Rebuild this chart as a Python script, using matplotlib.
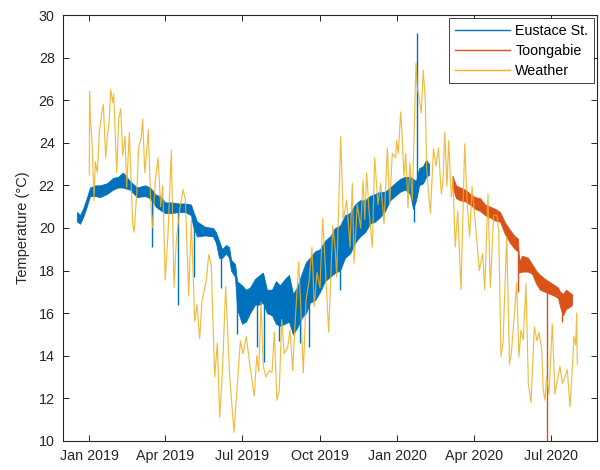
import numpy as np
import pandas as pd
import matplotlib
matplotlib.use('Agg')
import matplotlib.pyplot as plt
from matplotlib.lines import Line2D

plt.rcParams['font.family'] = ['Liberation Sans', 'DejaVu Sans']

base = pd.Timestamp('2019-01-01')

# Weather: (days since 1 Jan 2019, temperature)
w_day = [0, 0.3, 1.2, 2, 3.2, 5.6, 7.1, 9.5, 11.9, 14.7, 16.6, 19.4, 21.3, 23.3, 25.4,
         27.7, 28.9, 32.5, 34.8, 37.2, 39.6, 42.3, 44.3, 47.4, 51.4, 53, 56.2, 58.5, 61.3,
         63.3, 65.7, 68, 69.9, 72.8, 75.1, 78.2, 81.4, 84.6, 87, 90, 93.3, 97.2, 100.4,
         103.1, 107.1, 111, 113.8, 117.8, 120.9, 124.9, 127.6, 130.8, 133.6, 138.7, 141.5,
         144.6, 148.6, 151.7, 154.5, 157.6, 161.6, 166.4, 171.5, 175.4, 179, 182.2, 186.1,
         190.4, 195.5, 198.4, 200.8, 203.5, 206.2, 209.4, 213.3, 216.5, 219.2, 222.4, 225.2,
         228, 231.1, 235.1, 237.9, 241, 244.1, 248.2, 250.9, 253.6, 256.8, 260.4, 263.9,
         266.6, 269.8, 273.4, 276.6, 279.7, 283.7, 288.5, 291.5, 293.2, 297.9, 301, 305,
         309, 311.7, 313.7, 317.6, 321.6, 324.4, 326.4, 328.7, 331.5, 335.4, 338.2, 342.1,
         345.3, 349.3, 353.2, 356, 359.1, 363.1, 364.3, 366.2, 369, 370.9, 372.9, 375,
         377.7, 380, 382.8, 387.2, 388.7, 390.7, 393.4, 395.8, 398.2, 399.8, 401.7, 404.3,
         407.9, 410.9, 413.8, 417.2, 419.2, 421.2, 423.9, 425.9, 429, 431, 433.7, 436.6,
         440.5, 444.9, 448, 450.8, 453.6, 457.4, 462.2, 466.2, 468.6, 472.5, 475.2, 479.2,
         483.2, 485.2, 487.9, 490.3, 494.7, 498, 500.4, 506.5, 509.2, 511.6, 514.3, 517.5,
         520.3, 523.5, 527.4, 530.6, 533, 536.1, 538, 540, 542, 544.8, 548.7, 551.9, 555.1,
         557.8, 560.6, 563.8, 566.5, 569.7, 571.7, 574.4, 576.4, 577.6, 578.3]
w_temp = [22.5, 26.4, 25.1, 24.75, 24.0, 21.3, 23.1, 22.6, 24.5, 25.4, 25.8, 23.3, 24.3,
          24.9, 26.5, 25.9, 26.3, 22.6, 25.1, 25.6, 23.4, 24.3, 21.9, 24.5, 20.2, 19.8, 21.6,
          23.8, 24.2, 25.1, 22.6, 23.6, 24.6, 21.2, 20.0, 22.2, 23.3, 21.0, 22.0, 17.55,
          19.75, 23.65, 17.2, 19.4, 20.85, 21.8, 21.35, 16.8, 20.4, 15.6, 16.4, 14.8, 16.6,
          17.55, 18.75, 18.2, 13.0, 14.6, 11.1, 13.1, 17.25, 13.0, 10.4, 12.6, 14.7, 14.1,
          14.9, 13.5, 12.1, 14.0, 13.25, 16.5, 13.5, 13.0, 13.3, 13.2, 15.1, 11.9, 12.4,
          15.7, 14.1, 14.4, 15.2, 13.3, 15.7, 18.4, 16.0, 13.2, 16.6, 17.5, 19.1, 16.3, 17.9,
          17.2, 20.45, 18.2, 15.1, 20.1, 19.0, 17.7, 24.3, 20.4, 21.3, 19.1, 22.1, 18.35,
          21.1, 20.0, 22.25, 20.4, 22.6, 20.8, 19.1, 23.3, 21.1, 22.1, 20.2, 23.75, 21.1,
          23.5, 23.3, 24.1, 23.5, 25.45, 24.2, 22.4, 23.5, 20.95, 23.05, 21.3, 27.75, 26.6,
          26.15, 25.4, 27.4, 26.0, 22.9, 21.8, 20.7, 23.7, 22.9, 23.75, 21.6, 22.2, 24.5,
          21.95, 24.1, 21.45, 22.3, 19.1, 20.8, 17.1, 23.95, 21.0, 19.6, 21.95, 20.3, 18.0,
          18.8, 17.1, 21.6, 17.2, 20.6, 20.6, 19.8, 13.95, 14.6, 19.6, 13.6, 14.2, 17.4,
          13.95, 15.2, 14.75, 17.4, 12.7, 11.8, 15.35, 14.7, 15.1, 14.3, 12.4, 11.9, 13.0,
          12.2, 15.5, 12.2, 12.9, 13.5, 12.7, 13.0, 13.35, 11.6, 12.9, 14.9, 14.5, 16.0, 13.6]

# Eustace St.: band (day, low, high) plus short spikes (day, value)
e_day = [-14.6, -11, -7.5, -3.9, 0.8, 6.8, 12.7, 21, 28.1, 34, 39.9, 48.2, 56.5, 66, 71.9,
         79, 83.8, 89.7, 98, 105.1, 113.4, 120.5, 122.9, 127.6, 137.1, 146.6, 150.1, 153.7,
         157.3, 162, 165.6, 168, 172.7, 175.1, 181, 185.7, 190.4, 196.4, 202.3, 205.8, 210.5,
         216.5, 221.2, 225.9, 231.8, 236.6, 241.4, 246.1, 252.1, 256.8, 261.5, 267.5, 273.4,
         279.3, 285.2, 291.2, 297.1, 303, 309, 314.9, 320.8, 326.8, 332.7, 338.6, 344.5,
         350.5, 356.4, 362.3, 368.2, 374.2, 380.1, 383.7, 387.2, 390.8, 395.5, 399.1, 402.6]
e_lo = [20.3, 20.2, 20.5, 20.9, 21.5, 21.5, 21.45, 21.6, 21.8, 21.9, 21.9, 21.8, 21.45, 21.5,
        21.4, 20.99, 20.85, 20.7, 20.7, 20.75, 20.75, 20.6, 20.1, 19.6, 19.65, 19.6, 19.3,
        18.6, 18.6, 18.8, 18.6, 18.0, 17.7, 16.2, 15.5, 15.6, 16.0, 16.4, 16.4, 16.5, 16.0,
        15.9, 15.5, 15.4, 15.5, 15.6, 15.0, 15.3, 15.8, 16.0, 16.5, 16.6, 17.0, 17.5, 17.7,
        17.9, 18.0, 18.6, 18.8, 19.3, 19.6, 19.8, 20.2, 20.3, 20.5, 20.8, 21.3, 21.5, 21.7,
        21.8, 21.6, 20.9, 21.3, 22.0, 22.1, 22.4, 22.5]
e_hi = [20.75, 20.6, 20.9, 21.3, 21.9, 22.0, 22.0, 22.1, 22.35, 22.4, 22.6, 22.2, 21.9, 22.0,
        21.9, 21.55, 21.5, 21.2, 21.2, 21.15, 21.15, 21.1, 20.8, 20.3, 20.05, 20.0, 19.8,
        19.4, 19.0, 19.2, 19.1, 18.5, 18.3, 17.5, 17.3, 17.1, 17.2, 17.6, 17.8, 17.9, 17.1,
        17.1, 17.5, 17.3, 17.6, 17.8, 16.9, 17.2, 17.9, 18.4, 18.6, 18.9, 19.0, 19.4, 19.6,
        20.0, 20.1, 20.6, 20.7, 21.1, 21.3, 21.3, 21.5, 21.6, 21.7, 21.7, 21.9, 22.1, 22.3,
        22.4, 22.4, 22.3, 22.2, 22.8, 22.9, 23.2, 23.0]
e_spike_day = [74.3, 104.7, 124.5, 155.5, 175.6, 198.7, 207, 224.8, 249.6, 260.4, 297.5,
               384.9, 388.4]
e_spike_val = [19.1, 16.4, 17.7, 17.2, 15.0, 14.4, 13.7, 14.7, 14.6, 14.4, 17.1, 20.3, 29.17]

# Toongabie: band (day, low, high) plus spikes
t_day = [430.4, 434.6, 439.3, 445.3, 451.2, 457.1, 463, 469, 474.9, 480.8, 486.7, 492.7,
         498.6, 504.5, 508.1, 509.3, 512.8, 519.9, 524.7, 529.4, 534.1, 540.1, 546, 551.9,
         555.5, 557.9, 561.4, 565, 569.7, 572.1]
t_lo = [21.9, 21.4, 21.3, 21.25, 21.1, 20.9, 20.8, 20.6, 20.5, 20.35, 20.3, 19.7, 19.3, 19.0,
        18.9, 17.9, 17.95, 17.95, 17.85, 17.4, 17.1, 17.0, 16.9, 16.8, 16.7, 16.3, 15.9,
        16.2, 16.3, 16.4]
t_hi = [22.45, 22.0, 21.9, 21.8, 21.6, 21.45, 21.4, 21.1, 21.0, 20.9, 20.75, 20.25, 19.9,
        19.6, 19.5, 18.4, 18.7, 18.6, 18.3, 18.0, 17.8, 17.6, 17.45, 17.3, 17.2, 17.0, 16.9,
        17.1, 16.95, 16.9]
t_spike_day = [508.6, 542.9, 560.6]
t_spike_val = [17.0, 9.0, 15.6]

x_ticks = ['2019-01-01', '2019-04-01', '2019-07-01', '2019-10-01', '2020-01-01',
           '2020-04-01', '2020-07-01']
x_labels = ['Jan 2019', 'Apr 2019', 'Jul 2019', 'Oct 2019', 'Jan 2020', 'Apr 2020',
            'Jul 2020']


def to_dates(days):
    return base + pd.to_timedelta(np.array(days), unit='D')


c_eus = '#0072BD'
c_toon = '#D95319'
c_wea = '#EDB120'
dark = '#262626'

fig = plt.figure(figsize=(6, 4.7), dpi=100)
ax = fig.add_axes([0.105, 0.062, 0.89, 0.906])

# Eustace St.
ed = to_dates(e_day)
ax.fill_between(ed, e_lo, e_hi, color=c_eus, lw=0.6)
mid = (np.array(e_lo) + np.array(e_hi)) / 2
ax.vlines(to_dates(e_spike_day), e_spike_val, np.interp(e_spike_day, e_day, mid),
          color=c_eus, lw=1.0)

# Toongabie
td = to_dates(t_day)
ax.fill_between(td, t_lo, t_hi, color=c_toon, lw=0.6)
mid_t = (np.array(t_lo) + np.array(t_hi)) / 2
ax.vlines(to_dates(t_spike_day), t_spike_val, np.interp(t_spike_day, t_day, mid_t),
          color=c_toon, lw=1.0)

# Weather
ax.plot(to_dates(w_day), w_temp, color=c_wea, lw=0.85, alpha=0.85)

ax.set_xlim(to_dates([-31.2])[0], to_dates([601.7])[0])
ax.set_ylim(10, 30)
ax.set_yticks(np.arange(10, 31, 2))
ax.set_xticks(pd.to_datetime(x_ticks))
ax.set_xticklabels(x_labels)
ax.set_ylabel('Temperature (°C)', fontsize=10.5, color=dark, labelpad=6)

ax.tick_params(direction='in', length=4, width=0.7, top=True, right=True,
               labelsize=10.3, colors=dark, pad=6)
for s in ax.spines.values():
    s.set_color(dark)
    s.set_linewidth(0.8)

handles = [Line2D([], [], color=c_eus, lw=1),
           Line2D([], [], color=c_toon, lw=1),
           Line2D([], [], color=c_wea, lw=1)]
leg = ax.legend(handles, ['Eustace St.', 'Toongabie', 'Weather'], loc='upper right',
                fontsize=10.3, handlelength=3.9, handletextpad=0.35, labelspacing=0.42,
                borderaxespad=0.2, borderpad=0.4, fancybox=False, framealpha=1)
leg.get_frame().set_edgecolor(dark)
leg.get_frame().set_linewidth(0.6)

fig.savefig('out.png', dpi=100)
